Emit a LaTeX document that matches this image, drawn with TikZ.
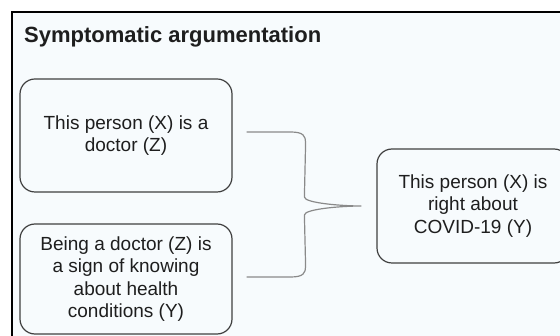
\documentclass[tikz,border=0pt]{standalone}
\usepackage{fontspec}
\setmainfont{Liberation Sans}
\usetikzlibrary{calc}
\definecolor{panel}{HTML}{F7FBFD}
\definecolor{ink}{HTML}{1E1E1E}
\definecolor{bracegray}{HTML}{8A8A8A}
\tikzset{ claim/.style = { rectangle
                         , draw         = ink!85
                         , line width   = 1.2pt
                         , rounded corners = 15pt
                         , align        = center
                         , text         = ink
                         , inner sep    = 0pt
                         , font         = \fontsize{19}{22.5}\selectfont
                         },
          title/.style = { anchor    = base west
                         , inner sep = 0pt
                         , text      = ink
                         , font      = \fontsize{22}{26}\selectfont\bfseries
                         }
        }

\begin{document}
\begin{tikzpicture}[x=1pt, y=-1pt]
            \useasboundingbox (0,0) rectangle (560,336);
            \clip (0,0) rectangle (560,336);
            % panel
            \fill[panel] (12,12) rectangle (570,346);
            \draw[line width=1.5pt] (12,346) -- (12,12) -- (570,12);
            \node[title] (head) at (24,43) {Symptomatic argumentation};
            \node[claim, minimum width=212pt, minimum height=113pt]
                (doctor) at (126,135.5) {This person (X) is a\\doctor (Z)};
            \node[claim, minimum width=212pt, minimum height=110pt]
                (sign) at (126,279) {Being a doctor (Z) is\\a sign of knowing\\about health\\conditions (Y)};
            \node[claim, minimum width=192pt, minimum height=114pt]
                (right) at (473,206) {This person (X) is\\right about\\COVID-19 (Y)};
            % brace joining the two premises
            \coordinate (top) at ($(doctor.east)+(14,-3.5)$);
            \coordinate (bot) at ($(sign.east)+(14,-2)$);
            \coordinate (tip) at ($(right.west)+(-15,0)$);
            \draw[bracegray, line width=1.2pt]
                (top) -- ++(44,0) .. controls ++(13,0) and ++(0,-7) .. ++(15,11)
                -- ($(tip)+(-57,-9)$) .. controls ++(0,6) and ++(-20,0) .. (tip)
                .. controls ++(-20,0) and ++(0,-6) .. ($(tip)+(-57,9)$)
                -- ($(bot)+(59,-11)$) .. controls ++(0,7) and ++(13,0) .. ($(bot)+(44,0)$)
                -- (bot);
\end{tikzpicture}
\end{document}
